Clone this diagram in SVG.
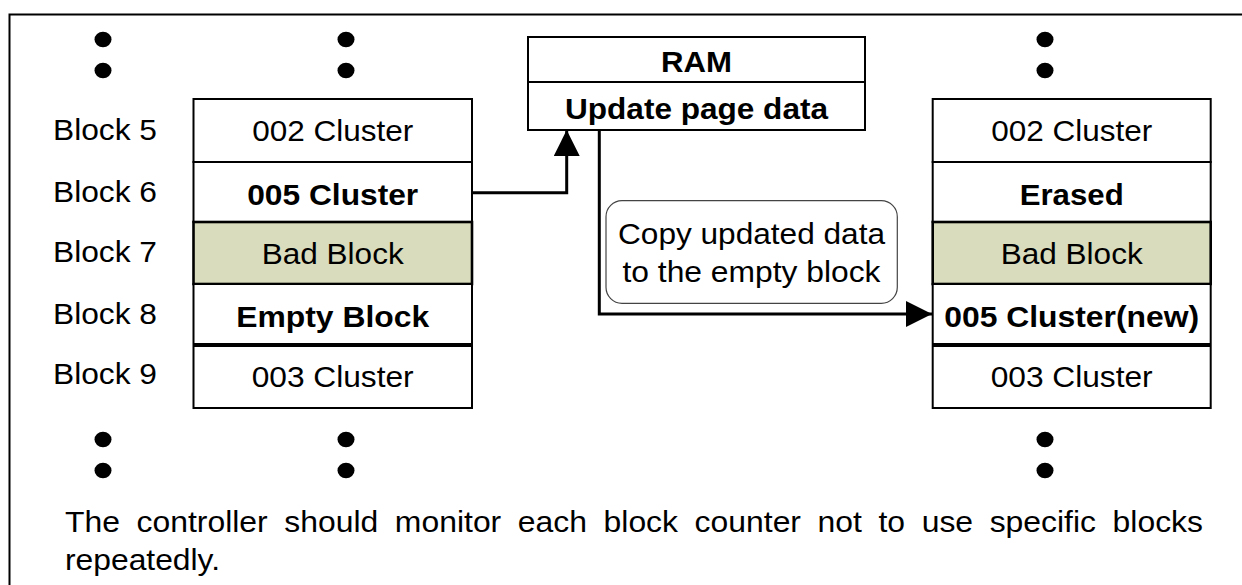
<svg xmlns="http://www.w3.org/2000/svg" width="1242" height="585" viewBox="0 0 1242 585">
  <defs>
    <marker id="arrow" viewBox="0 0 26 26" refX="26" refY="13" markerWidth="26" markerHeight="26" markerUnits="userSpaceOnUse" orient="auto">
      <path d="M0,0 L26,13 L0,26 Z" fill="#000"/>
    </marker>
  </defs>
  <style>
    text { font-family: "Liberation Sans", Arial, sans-serif; font-size: 29px; fill: #000; }
    .b { font-weight: bold; }
    .c { text-anchor: middle; }
    .cell { fill: #fff; stroke: #000; stroke-width: 2; }
    .bad { fill: #d9dcbd; stroke: #000; stroke-width: 2.6; }
    .dot { fill: #000; }
    .wire { fill: none; stroke: #000; stroke-width: 3; }
  </style>

  <rect width="1242" height="585" fill="#fff"/>
  <!-- outer frame -->
  <path d="M9.5,600 V14.5 H1260" fill="none" stroke="#000" stroke-width="2"/>

  <!-- continuation dots -->
  <g id="dots">
    <ellipse class="dot" cx="103" cy="39.5" rx="8.5" ry="7.8"/>
    <ellipse class="dot" cx="103" cy="70.5" rx="8.5" ry="7.8"/>
    <ellipse class="dot" cx="346" cy="39.5" rx="8.5" ry="7.8"/>
    <ellipse class="dot" cx="346" cy="70.5" rx="8.5" ry="7.8"/>
    <ellipse class="dot" cx="1045" cy="39.5" rx="8.5" ry="7.8"/>
    <ellipse class="dot" cx="1045" cy="70.5" rx="8.5" ry="7.8"/>
    <ellipse class="dot" cx="103" cy="439.5" rx="8.5" ry="7.8"/>
    <ellipse class="dot" cx="103" cy="470.5" rx="8.5" ry="7.8"/>
    <ellipse class="dot" cx="346" cy="439.5" rx="8.5" ry="7.8"/>
    <ellipse class="dot" cx="346" cy="470.5" rx="8.5" ry="7.8"/>
    <ellipse class="dot" cx="1045" cy="439.5" rx="8.5" ry="7.8"/>
    <ellipse class="dot" cx="1045" cy="470.5" rx="8.5" ry="7.8"/>
  </g>

  <!-- block number labels -->
  <g id="block-labels">
    <text x="53" y="139.5" textLength="104" lengthAdjust="spacingAndGlyphs">Block 5</text>
    <text x="53" y="201.5" textLength="104" lengthAdjust="spacingAndGlyphs">Block 6</text>
    <text x="53" y="261.5" textLength="104" lengthAdjust="spacingAndGlyphs">Block 7</text>
    <text x="53" y="323.5" textLength="104" lengthAdjust="spacingAndGlyphs">Block 8</text>
    <text x="53" y="383.5" textLength="104" lengthAdjust="spacingAndGlyphs">Block 9</text>
  </g>

  <!-- flash blocks before the update -->
  <g id="before">
    <rect class="cell" x="193.5" y="99" width="278.5" height="63"/>
    <text class="c" x="332.7" y="141" textLength="161" lengthAdjust="spacingAndGlyphs">002 Cluster</text>
    <rect class="cell" x="193.5" y="162" width="278.5" height="60"/>
    <text class="c b" x="332.7" y="205" textLength="171" lengthAdjust="spacingAndGlyphs">005 Cluster</text>
    <rect class="bad" x="193.5" y="222" width="278.5" height="62"/>
    <text class="c" x="332.7" y="264" textLength="142" lengthAdjust="spacingAndGlyphs">Bad Block</text>
    <rect class="cell" x="193.5" y="284" width="278.5" height="60"/>
    <text class="c b" x="332.7" y="326.5" textLength="193" lengthAdjust="spacingAndGlyphs">Empty Block</text>
    <rect class="cell" x="193.5" y="346" width="278.5" height="62"/>
    <text class="c" x="332.7" y="386.5" textLength="162" lengthAdjust="spacingAndGlyphs">003 Cluster</text>
  </g>

  <!-- RAM buffer -->
  <g id="ram">
    <rect class="cell" x="528" y="37" width="337" height="45"/>
    <text class="c b" x="696.5" y="71.5" textLength="71" lengthAdjust="spacingAndGlyphs">RAM</text>
    <rect class="cell" x="528" y="82" width="337" height="48"/>
    <text class="c b" x="696.5" y="118.5" textLength="263" lengthAdjust="spacingAndGlyphs">Update page data</text>
  </g>

  <!-- flash blocks after the update -->
  <g id="after">
    <rect class="cell" x="932.7" y="99" width="278" height="63"/>
    <text class="c" x="1071.7" y="141" textLength="161" lengthAdjust="spacingAndGlyphs">002 Cluster</text>
    <rect class="cell" x="932.7" y="162" width="278" height="60"/>
    <text class="c b" x="1071.7" y="205" textLength="104" lengthAdjust="spacingAndGlyphs">Erased</text>
    <rect class="bad" x="932.7" y="222" width="278" height="62"/>
    <text class="c" x="1071.7" y="264" textLength="142" lengthAdjust="spacingAndGlyphs">Bad Block</text>
    <rect class="cell" x="932.7" y="284" width="278" height="60"/>
    <text class="c b" x="1071.7" y="326.5" textLength="255" lengthAdjust="spacingAndGlyphs">005 Cluster(new)</text>
    <rect class="cell" x="932.7" y="346" width="278" height="62"/>
    <text class="c" x="1071.7" y="386.5" textLength="162" lengthAdjust="spacingAndGlyphs">003 Cluster</text>
  </g>

  <!-- copy note -->
  <g id="note">
    <rect x="606" y="200.7" width="291.3" height="102.6" rx="16" fill="#fff" stroke="#444" stroke-width="1.2"/>
    <text class="c" x="751.5" y="244" textLength="267" lengthAdjust="spacingAndGlyphs">Copy updated data</text>
    <text class="c" x="751.5" y="281.7" textLength="258" lengthAdjust="spacingAndGlyphs">to the empty block</text>
  </g>

  <!-- data flow -->
  <g id="connectors">
    <path class="wire" d="M472,192.7 H566.7 V130" marker-end="url(#arrow)"/>
    <path class="wire" d="M599.3,130 V314 H932" marker-end="url(#arrow)"/>
  </g>

  <!-- footnote -->
  <g id="footnote">
    <text x="65" y="531.7" textLength="1138" lengthAdjust="spacingAndGlyphs" word-spacing="7">The controller should monitor each block counter not to use specific blocks</text>
    <text x="65" y="570" textLength="155" lengthAdjust="spacingAndGlyphs">repeatedly.</text>
  </g>
</svg>
